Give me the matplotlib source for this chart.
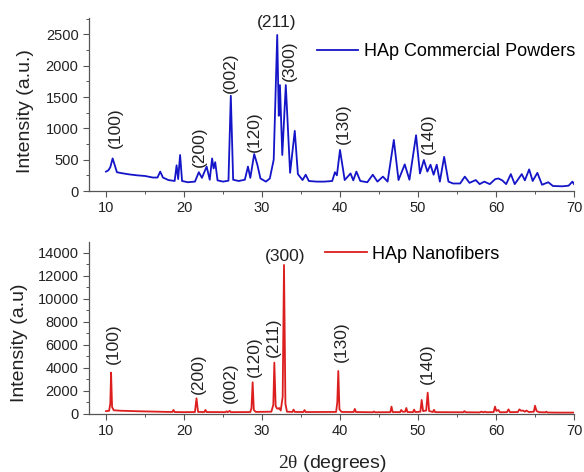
import matplotlib
matplotlib.use("Agg")
import matplotlib.pyplot as plt
from matplotlib.ticker import MultipleLocator

plt.rcParams['font.family'] = ['Liberation Sans', 'DejaVu Sans']
plt.rcParams['mathtext.fontset'] = 'custom'
plt.rcParams['mathtext.rm'] = 'Liberation Serif'

# XRD pattern: HAp commercial powders (top panel)
powder_2theta = [10.0, 10.3, 10.55, 10.85, 11.1, 11.4, 12.0, 13.0, 14.0, 15.0, 16.0, 16.6, 16.95, 17.3,
                 18.0, 18.8, 19.05, 19.25, 19.5, 19.75, 20.5, 21.4, 21.9, 22.3, 22.9, 23.3, 23.6, 23.8,
                 24.0, 24.3, 25.0, 25.7, 26.0, 26.3, 27.0, 27.8, 28.2, 28.5, 29.0, 29.4, 29.8, 30.5,
                 31.0, 31.5, 31.95, 32.15, 32.3, 32.6, 33.05, 33.6, 34.2, 34.6, 35.2, 35.6, 36.0, 37.0,
                 38.0, 39.0, 39.35, 39.6, 40.0, 40.6, 41.35, 41.7, 42.1, 42.6, 43.5, 44.2, 44.8, 45.5,
                 46.1, 46.9, 47.5, 48.3, 48.9, 49.75, 50.25, 50.75, 51.2, 51.6, 52.0, 52.4, 52.8, 53.35,
                 53.9, 54.5, 55.4, 56.0, 56.6, 57.4, 57.9, 58.5, 59.2, 59.9, 60.3, 60.8, 61.3, 61.9,
                 62.4, 63.3, 63.7, 64.25, 64.7, 65.3, 65.9, 66.7, 67.3, 68.5, 69.3, 69.8, 70.0]
powder_counts = [310, 330, 380, 520, 420, 300, 285, 265, 250, 240, 215, 215, 310, 215,
                 175, 160, 410, 190, 575, 160, 140, 150, 300, 210, 390, 180, 520, 360,
                 460, 170, 150, 165, 1520, 180, 160, 180, 390, 210, 590, 420, 200, 150,
                 200, 500, 2490, 1200, 1690, 575, 1690, 290, 960, 270, 175, 260, 160, 150,
                 150, 160, 300, 250, 655, 175, 280, 170, 310, 160, 140, 260, 150, 230,
                 150, 815, 175, 425, 180, 890, 280, 495, 310, 420, 260, 420, 150, 545,
                 150, 120, 120, 230, 130, 175, 110, 150, 110, 190, 200, 170, 110, 270,
                 110, 270, 170, 345, 160, 290, 100, 140, 80, 75, 85, 150, 110]

# XRD pattern of HAp nanofibers (bottom panel)
fiber_2theta = [10.0, 10.4, 10.55, 10.65, 10.78, 11.0, 12.0, 14.0, 16.0, 18.0, 18.5, 18.65, 18.8, 20.0,
                21.4, 21.6, 21.8, 22.6, 22.75, 22.9, 25.3, 25.45, 25.6, 25.85, 26.0, 28.5, 28.65, 28.8,
                28.95, 29.2, 31.2, 31.45, 31.58, 31.75, 31.9, 32.05, 32.2, 32.4, 32.65, 32.82, 33.0, 33.2,
                33.9, 34.05, 34.2, 35.3, 35.45, 35.6, 39.5, 39.65, 39.78, 39.93, 40.2, 41.75, 41.9, 42.05,
                44.2, 44.35, 44.5, 46.45, 46.6, 46.75, 47.7, 47.85, 48.0, 48.35, 48.5, 48.65, 49.35, 49.5,
                49.65, 50.3, 50.47, 50.65, 51.05, 51.24, 51.42, 51.9, 52.05, 52.2, 55.8, 55.95, 56.1, 57.9,
                58.1, 58.4, 58.6, 58.8, 59.7, 59.87, 60.05, 60.3, 60.5, 61.4, 61.6, 61.8, 62.8, 63.0,
                63.2, 63.45, 63.7, 63.9, 64.2, 64.85, 65.0, 65.2, 65.5, 66.3, 66.45, 66.6, 68.0, 70.0]
fiber_counts = [250, 280, 900, 3590, 600, 320, 280, 240, 210, 180, 180, 350, 170, 160,
                170, 1360, 180, 170, 350, 170, 160, 230, 160, 270, 160, 170, 500, 2750,
                350, 180, 200, 800, 4460, 700, 500, 450, 520, 300, 1500, 12930, 900, 200,
                180, 380, 180, 170, 340, 170, 180, 1000, 3730, 400, 180, 170, 440, 170,
                150, 220, 150, 160, 640, 170, 160, 350, 200, 200, 520, 170, 160, 380,
                170, 200, 1220, 250, 300, 1850, 260, 170, 360, 160, 150, 250, 150, 140,
                200, 150, 200, 150, 170, 640, 260, 350, 150, 160, 400, 160, 170, 400,
                280, 300, 200, 300, 170, 200, 720, 260, 160, 140, 200, 130, 120, 120]

# peak labels: text, 2theta, intensity, rotation
powder_labels = ['(100)', '(200)', '(002)', '(120)', '(211)', '(300)', '(130)', '(140)']
powder_label_x = [11.15, 21.96, 26.0, 29.0, 31.9, 33.5, 40.4, 51.3]
powder_label_y = [1013, 700, 1890, 940, 2690, 2075, 1070, 909]
powder_label_rot = [90, 90, 90, 90, 0, 90, 90, 90]

fiber_labels = ['(100)', '(200)', '(002)', '(120)', '(211)', '(300)', '(130)', '(140)']
fiber_label_x = [10.94, 21.9, 26.0, 29.0, 31.5, 32.95, 40.2, 51.2]
fiber_label_y = [6076, 3470, 2690, 4970, 6680, 13650, 6280, 4340]
fiber_label_rot = [90, 90, 90, 90, 90, 0, 90, 90]

fig = plt.figure(figsize=(5.84, 4.72), dpi=100)
ax1 = fig.add_axes([0.1524, 0.5953, 0.8305, 0.3665])
ax2 = fig.add_axes([0.1524, 0.1229, 0.8305, 0.365])

ax1.plot(powder_2theta, powder_counts, color='#1414c8', lw=1.3, label='HAp Commercial Powders')
ax2.plot(fiber_2theta, fiber_counts, color='#dc1e1e', lw=1.3, label='HAp Nanofibers')

for ax in (ax1, ax2):
    ax.spines['top'].set_visible(False)
    ax.spines['right'].set_visible(False)
    for s in ('left', 'bottom'):
        ax.spines[s].set_color('#555555')
        ax.spines[s].set_linewidth(0.9)
    ax.set_xlim(7.82, 70.0)
    ax.xaxis.set_major_locator(MultipleLocator(10))
    ax.xaxis.set_minor_locator(MultipleLocator(5))
    ax.tick_params(which='major', length=4, width=0.8, color='#555555', labelsize=10.5, labelcolor='#222222')
    ax.tick_params(which='minor', length=2.2, width=0.7, color='#555555')

ax1.set_ylim(0, 2760)
ax1.yaxis.set_major_locator(MultipleLocator(500))
ax1.yaxis.set_minor_locator(MultipleLocator(250))
ax2.set_ylim(0, 14950)
ax2.yaxis.set_major_locator(MultipleLocator(2000))
ax2.yaxis.set_minor_locator(MultipleLocator(1000))

# label x is the right edge of the rotated text
ax1.set_ylabel('Intensity (a.u.)', fontsize=14, color='#222222')
ax1.yaxis.set_label_coords(-0.113, 0.46)
ax2.set_ylabel('Intensity (a.u)', fontsize=14, color='#222222')
ax2.yaxis.set_label_coords(-0.126, 0.415)

fig.text(332 / 584, 1 - 463 / 472, r'$\mathrm{2\theta}$ (degrees)', fontsize=14,
         ha='center', va='center', color='#222222')

for txt, x, y, r in zip(powder_labels, powder_label_x, powder_label_y, powder_label_rot):
    ax1.text(x, y, txt, rotation=r, ha='center', va='center', fontsize=12.5, color='#222222', clip_on=False)
for txt, x, y, r in zip(fiber_labels, fiber_label_x, fiber_label_y, fiber_label_rot):
    ax2.text(x, y, txt, rotation=r, ha='center', va='center', fontsize=12.5, color='#222222', clip_on=False)

# legends placed next to the tallest peak
ax1.legend(loc='center left', bbox_to_anchor=(37.0, 2222), bbox_transform=ax1.transData,
           frameon=False, fontsize=13, handlelength=2.3, handletextpad=0.3, borderpad=0, borderaxespad=0)
ax2.legend(loc='center left', bbox_to_anchor=(38.1, 13860), bbox_transform=ax2.transData,
           frameon=False, fontsize=13, handlelength=2.3, handletextpad=0.3, borderpad=0, borderaxespad=0)

fig.savefig('out.png', dpi=100)
